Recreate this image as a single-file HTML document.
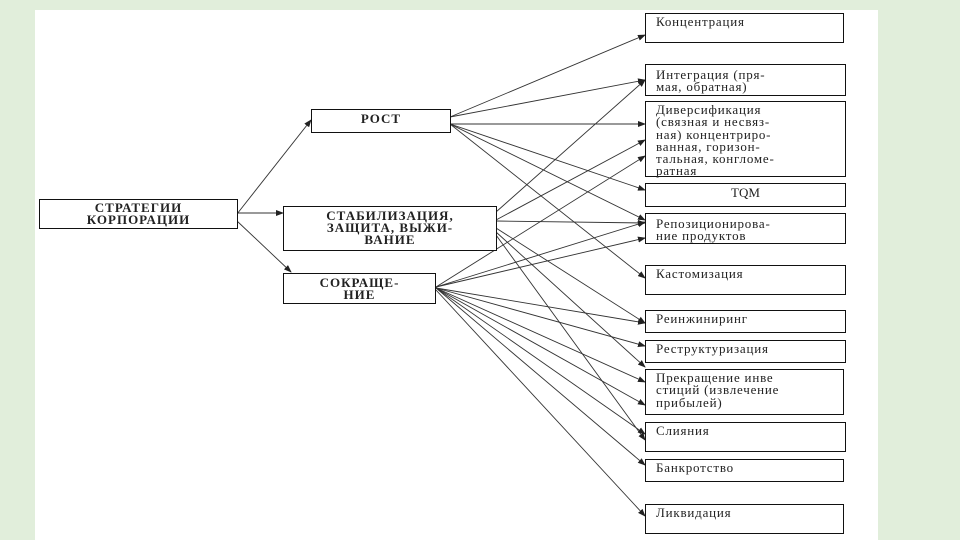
<!DOCTYPE html>
<html><head><meta charset="utf-8"><style>
html,body{margin:0;padding:0;width:960px;height:540px;overflow:hidden;background:#e1eedb}
.p{position:absolute;left:35px;top:10px;width:843px;height:530px;background:#fff}
.b{position:absolute;border:1.5px solid #111;box-sizing:border-box;font-family:"Liberation Serif",serif;font-size:13px;line-height:12.3px;color:#222;background:#fff}
.c{text-align:center;font-weight:bold;font-size:13px;line-height:12px;letter-spacing:1px}
.r{padding:2px 0 0 10px;letter-spacing:0.8px;white-space:nowrap}
</style></head><body>
<div class="p"></div>
<svg width="960" height="540" style="position:absolute;left:0;top:0">
<defs><marker id="a" markerWidth="8" markerHeight="6" refX="7" refY="3" orient="auto" markerUnits="userSpaceOnUse"><path d="M0,0 L8,3 L0,6z" fill="#222"/></marker></defs>
<g stroke="#333" stroke-width="0.9" fill="none" marker-end="url(#a)">
<line x1="237" y1="214" x2="311" y2="120"/>
<line x1="237" y1="213" x2="283" y2="213"/>
<line x1="237" y1="221" x2="291" y2="272"/>
<line x1="450" y1="117" x2="645" y2="35"/>
<line x1="450" y1="117" x2="645" y2="80"/>
<line x1="450" y1="124" x2="645" y2="124"/>
<line x1="450" y1="124" x2="645" y2="190"/>
<line x1="450" y1="124" x2="645" y2="220"/>
<line x1="450" y1="124" x2="645" y2="278"/>
<line x1="496" y1="212" x2="645" y2="80"/>
<line x1="496" y1="220" x2="645" y2="140"/>
<line x1="496" y1="221" x2="645" y2="223"/>
<line x1="496" y1="228" x2="645" y2="323"/>
<line x1="496" y1="232" x2="645" y2="367"/>
<line x1="496" y1="235" x2="645" y2="440"/>
<line x1="436" y1="287" x2="645" y2="156"/>
<line x1="436" y1="287" x2="645" y2="222"/>
<line x1="436" y1="287" x2="645" y2="238"/>
<line x1="436" y1="288" x2="645" y2="323"/>
<line x1="436" y1="288" x2="645" y2="346"/>
<line x1="436" y1="288" x2="645" y2="382"/>
<line x1="436" y1="288" x2="645" y2="405"/>
<line x1="436" y1="288" x2="645" y2="434"/>
<line x1="436" y1="288" x2="645" y2="465"/>
<line x1="436" y1="290" x2="645" y2="516"/>
</g></svg>
<div class="b c" style="left:39px;top:199px;width:199px;height:30px;padding-top:2px">СТРАТЕГИИ<br>КОРПОРАЦИИ</div>
<div class="b c" style="left:311px;top:109px;width:140px;height:24px;padding-top:3px">РОСТ</div>
<div class="b c" style="left:283px;top:206px;width:214px;height:45px;padding-top:3px">СТАБИЛИЗАЦИЯ,<br>ЗАЩИТА, ВЫЖИ-<br>ВАНИЕ</div>
<div class="b c" style="left:283px;top:273px;width:153px;height:31px;padding-top:3px">СОКРАЩЕ-<br>НИЕ</div>
<div class="b r" style="left:645px;top:13px;width:199px;height:30px">Концентрация</div>
<div class="b r" style="left:645px;top:64px;width:201px;height:32px;padding-top:4px">Интеграция (пря-<br>мая, обратная)</div>
<div class="b r" style="left:645px;top:101px;width:201px;height:76px">Диверсификация<br>(связная и несвяз-<br>ная) концентриро-<br>ванная, горизон-<br>тальная, конгломе-<br>ратная</div>
<div class="b" style="left:645px;top:183px;width:201px;height:24px;text-align:center;padding-top:3px">TQM</div>
<div class="b r" style="left:645px;top:213px;width:201px;height:31px;padding-top:4px">Репозиционирова-<br>ние продуктов</div>
<div class="b r" style="left:645px;top:265px;width:201px;height:30px">Кастомизация</div>
<div class="b r" style="left:645px;top:310px;width:201px;height:23px">Реинжиниринг</div>
<div class="b r" style="left:645px;top:340px;width:201px;height:23px">Реструктуризация</div>
<div class="b r" style="left:645px;top:369px;width:199px;height:46px">Прекращение инве<br>стиций (извлечение<br>прибылей)</div>
<div class="b r" style="left:645px;top:422px;width:201px;height:30px">Слияния</div>
<div class="b r" style="left:645px;top:459px;width:199px;height:23px">Банкротство</div>
<div class="b r" style="left:645px;top:504px;width:199px;height:30px">Ликвидация</div>
</body></html>
